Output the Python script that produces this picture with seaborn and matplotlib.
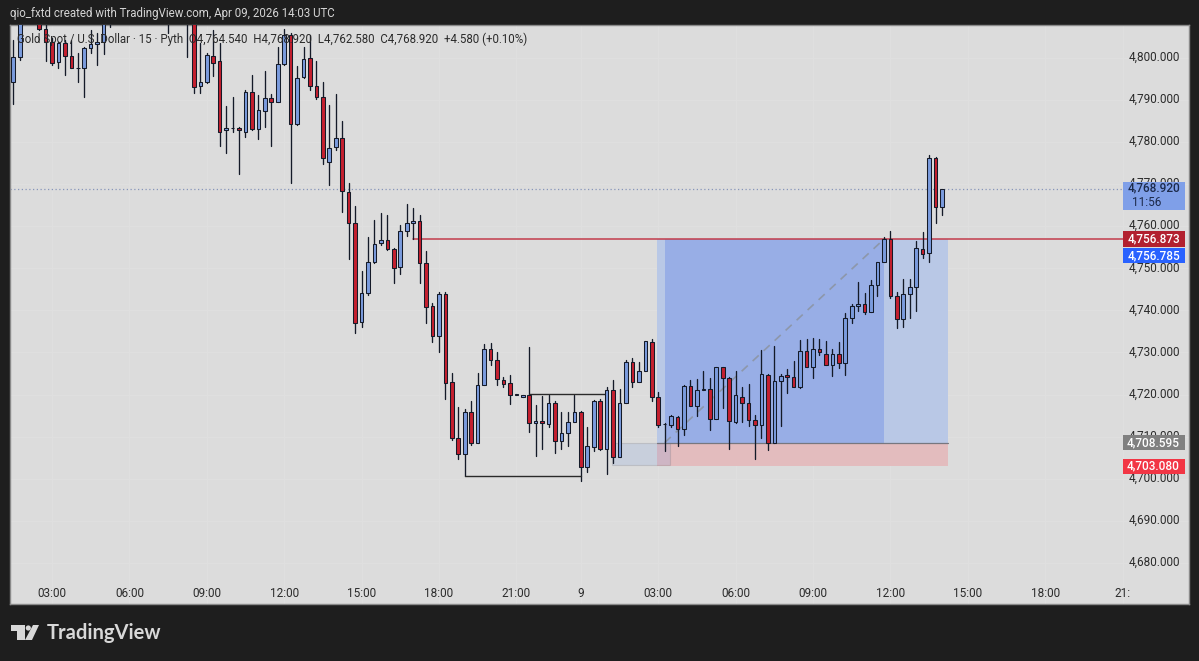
import matplotlib
matplotlib.use("Agg")
import matplotlib.pyplot as plt
from matplotlib.patches import Rectangle, Polygon, Ellipse
import pandas as pd
import seaborn as sns

N = None

# 15 minute bars, index 0 is the 03:00 bar. None = bar sits above the visible pane
bar_index = list(range(-6, 139))

open_ = [
    4794.3, 4800.2, N, N, 4811.0, 4806.9, 4803.8, 4798.9, 4803.4, 4800.5,
    4797.6, 4797.5, 4802.2, 4803.2, 4803.8, 4809.0, N, N, N, N,
    N, N, N, N, 4810.0, N, N, 4812.0, 4811.0, 4793.3,
    4794.3, 4800.5, 4799.1, 4782.7, 4783.4, 4783.2, 4782.4, 4791.8, 4783.0, 4787.4,
    4790.3, 4789.5, 4798.4, 4805.4, 4784.2, 4795.3, 4799.8, 4793.3, 4790.7, 4775.3,
    4778.7, 4780.9, 4768.0, 4760.7, 4737.3, 4744.2, 4751.4, 4756.0, 4756.7, 4754.5,
    4750.2, 4758.9, 4760.7, 4761.1, 4751.2, 4741.0, 4734.0, 4743.8, 4722.9, 4709.6,
    4705.8, 4715.8, 4708.6, 4722.2, 4730.9, 4728.2, 4723.4, 4722.7, 4719.8, 4719.4,
    4720.0, 4713.2, 4713.8, 4713.0, 4718.0, 4709.1, 4710.9, 4713.6, 4715.8, 4702.9,
    4707.5, 4718.5, 4707.1, 4721.0, 4705.3, 4717.9, 4727.8, 4723.1, 4725.5, 4732.5,
    4719.5, 4713.0, 4712.9, 4714.8, 4711.8, 4722.0, 4717.3, 4721.2, 4721.4, 4714.2,
    4726.5, 4724.0, 4713.4, 4719.5, 4717.9, 4714.0, 4712.9, 4724.7, 4708.6, 4723.2,
    4724.7, 4724.3, 4721.7, 4730.4, 4726.6, 4730.9, 4729.7, 4727.1, 4729.6, 4727.6,
    4738.3, 4741.0, 4741.6, 4739.6, 4746.0, 4751.4, 4756.9, 4743.3, 4738.0, 4744.0,
    4745.6, 4754.6, 4753.5, 4776.1, 4764.54,
]
high = [
    4804.2, 4811.0, N, N, 4812.0, 4809.0, 4804.6, 4803.8, 4804.2, 4804.2,
    4801.0, 4802.6, 4806.5, 4805.8, 4811.0, 4812.0, N, N, N, N,
    N, N, N, N, 4812.0, N, N, 4813.0, 4813.0, 4803.4,
    4801.0, 4806.5, 4803.4, 4788.4, 4790.6, 4783.6, 4792.3, 4795.9, 4791.1, 4796.8,
    4791.4, 4802.6, 4806.9, 4805.8, 4798.1, 4802.6, 4805.4, 4799.3, 4794.3, 4788.8,
    4791.3, 4785.0, 4770.2, 4764.8, 4749.4, 4757.3, 4761.5, 4763.2, 4762.6, 4754.7,
    4760.3, 4765.3, 4764.2, 4762.6, 4754.1, 4741.7, 4744.4, 4744.4, 4725.2, 4717.0,
    4716.5, 4718.6, 4725.1, 4732.0, 4732.2, 4730.0, 4724.3, 4724.7, 4720.2, 4719.8,
    4731.2, 4717.6, 4719.7, 4719.9, 4718.4, 4715.9, 4715.9, 4720.0, 4716.0, 4712.3,
    4718.7, 4718.9, 4721.7, 4723.4, 4721.3, 4728.2, 4728.7, 4727.7, 4732.7, 4733.1,
    4720.6, 4713.2, 4715.2, 4714.9, 4722.3, 4723.5, 4723.7, 4725.5, 4723.9, 4726.6,
    4726.6, 4724.3, 4725.6, 4721.9, 4722.5, 4715.2, 4730.6, 4724.8, 4731.5, 4724.8,
    4726.0, 4727.9, 4733.0, 4733.2, 4733.4, 4733.2, 4732.7, 4730.8, 4732.5, 4739.3,
    4741.5, 4746.7, 4744.1, 4747.1, 4751.4, 4757.3, 4758.8, 4744.4, 4747.4, 4747.4,
    4756.5, 4758.5, 4776.9, 4776.3, 4768.92,
]
low = [
    4789.1, 4799.4, N, N, 4806.5, 4799.3, 4798.2, 4797.5, 4795.9, 4797.5,
    4794.1, 4790.7, 4801.0, 4798.2, 4800.9, 4807.3, N, N, N, N,
    N, N, N, N, 4805.8, N, N, 4800.1, 4791.5, 4791.5,
    4794.0, 4795.6, 4778.9, 4777.4, 4782.4, 4772.4, 4781.1, 4782.8, 4780.6, 4783.5,
    4778.9, 4789.5, 4798.2, 4770.3, 4784.1, 4795.2, 4792.2, 4790.2, 4774.7, 4769.8,
    4778.1, 4763.3, 4752.2, 4734.6, 4736.0, 4743.7, 4751.2, 4755.4, 4754.3, 4746.4,
    4748.6, 4757.7, 4756.9, 4746.4, 4737.1, 4732.6, 4730.0, 4719.0, 4709.3, 4704.8,
    4700.7, 4708.1, 4708.6, 4722.2, 4727.0, 4722.3, 4721.7, 4717.7, 4719.8, 4719.4,
    4711.1, 4705.5, 4707.0, 4712.4, 4706.1, 4707.0, 4707.8, 4713.4, 4699.5, 4701.7,
    4706.7, 4706.9, 4701.1, 4703.7, 4705.1, 4717.9, 4721.7, 4723.1, 4725.5, 4718.6,
    4712.3, 4706.5, 4712.4, 4707.8, 4710.4, 4717.3, 4715.0, 4721.0, 4711.6, 4714.2,
    4716.9, 4707.0, 4713.2, 4713.6, 4712.6, 4704.7, 4709.8, 4706.9, 4708.6, 4712.6,
    4720.5, 4721.7, 4721.5, 4726.6, 4724.0, 4729.5, 4727.1, 4724.4, 4726.4, 4724.6,
    4737.1, 4739.9, 4739.1, 4739.6, 4743.4, 4751.4, 4742.9, 4735.9, 4736.1, 4738.1,
    4739.9, 4752.4, 4751.5, 4760.8, 4762.58,
]
close = [
    4800.2, 4808.9, N, N, 4806.8, 4803.8, 4798.8, 4803.4, 4800.5, 4797.6,
    4797.5, 4802.2, 4803.2, 4803.8, 4808.9, 4810.0, N, N, N, N,
    N, N, N, N, 4809.0, N, N, 4811.0, 4793.1, 4794.3,
    4800.6, 4798.7, 4782.4, 4783.4, 4783.3, 4782.7, 4791.8, 4783.0, 4787.6, 4790.4,
    4789.5, 4798.5, 4805.4, 4784.2, 4795.1, 4799.7, 4793.3, 4790.6, 4776.1, 4778.6,
    4780.9, 4768.3, 4760.7, 4737.1, 4744.2, 4751.4, 4755.8, 4756.7, 4754.5, 4750.0,
    4758.9, 4760.7, 4761.1, 4751.3, 4740.9, 4734.0, 4743.8, 4722.7, 4709.6, 4705.8,
    4715.8, 4708.6, 4722.2, 4730.9, 4728.2, 4723.6, 4722.6, 4719.8, 4720.2, 4719.8,
    4713.2, 4713.8, 4713.2, 4718.0, 4709.1, 4710.9, 4713.6, 4715.8, 4702.9, 4707.7,
    4718.6, 4707.2, 4721.0, 4705.3, 4717.9, 4727.8, 4723.1, 4725.5, 4732.7, 4719.5,
    4712.8, 4713.1, 4714.9, 4711.8, 4722.1, 4717.3, 4721.2, 4721.3, 4714.2, 4726.5,
    4724.0, 4713.8, 4719.8, 4717.9, 4714.0, 4712.9, 4724.8, 4708.6, 4723.2, 4724.5,
    4724.2, 4721.7, 4730.3, 4726.6, 4730.9, 4730.0, 4727.1, 4729.6, 4727.6, 4738.3,
    4741.1, 4741.6, 4739.6, 4746.0, 4751.4, 4756.9, 4743.3, 4738.0, 4744.0, 4745.6,
    4754.7, 4753.3, 4776.1, 4764.5, 4768.92,
]

time_ticks = [0, 12, 24, 36, 48, 60, 72, 82, 94, 106, 118, 130, 142, 154, 166]
time_labels = ["03:00", "06:00", "09:00", "12:00", "15:00", "18:00", "21:00", "9",
               "03:00", "06:00", "09:00", "12:00", "15:00", "18:00", "21:"]
price_ticks = [4800, 4790, 4780, 4770, 4760, 4750, 4740, 4730, 4720, 4710, 4700, 4690, 4680]

last_price = 4768.92
target_price = 4756.873
cross_price = 4756.785
entry_price = 4708.595
stop_price = 4703.08

BG = "#dcdcdc"
DARK = "#1e1e1e"
UP = "#7a9bdd"
DOWN = "#c4202f"
EDGE = "#141a28"
TXT = "#2b2b2b"

sns.set_theme(style="white")
plt.rcParams["font.family"] = ["Roboto", "DejaVu Sans"]

df = pd.DataFrame({"bar": bar_index, "o": open_, "h": high, "l": low, "c": close}).dropna()
df["body_low"] = df[["o", "c"]].min(axis=1)
df["body"] = (df.o - df.c).abs()
wicks = df.melt(id_vars="bar", value_vars=["h", "l"], value_name="price")

fig = plt.figure(figsize=(11.99, 6.61), dpi=100, facecolor=DARK)
# pane runs from x 10 to 1189 and y 25 to 604 in the 1199x661 picture
ax = fig.add_axes([10 / 1199, 1 - 604 / 661, 1179 / 1199, 579 / 661], facecolor=BG)

# grid
for p in price_ticks:
    ax.axhline(p, color="#dfdfdf", lw=0.8, zorder=0)
for t in time_ticks:
    ax.axvline(t, color="#dfdfdf", lw=0.8, zorder=0)

# long position tool
ax.add_patch(Rectangle((93.8, entry_price), 45.1, target_price - entry_price, color="#b9c8e6", lw=0, zorder=1))
ax.add_patch(Rectangle((95, entry_price), 34, target_price - entry_price, color="#98aee6", lw=0, zorder=1.1))
ax.add_patch(Rectangle((93.8, stop_price), 45.1, entry_price - stop_price, color="#e3bcbe", lw=0, zorder=1))
ax.add_patch(Rectangle((86.8, stop_price + 0.2), 9.1, entry_price - stop_price - 0.2, facecolor="#7a9bdd", alpha=0.2,
                       edgecolor="#666666", lw=0.8, zorder=1.2))
ax.plot([93.8, 138.9], [entry_price, entry_price], color="#77777f", lw=0.9, zorder=1.3)

sns.lineplot(x=[95, 129], y=[entry_price, 4756.9], color="#8d97aa", lw=1.2, linestyle=(0, (5, 4)), ax=ax, zorder=1.5)

# candles
sns.lineplot(data=wicks, x="bar", y="price", units="bar", estimator=None, sort=False,
             color=EDGE, lw=0.95, legend=False, ax=ax, zorder=3)
for rows, colour in ((df[df.c >= df.o], UP), (df[df.c < df.o], DOWN)):
    sns.barplot(data=rows, x="bar", y="body", bottom=rows["body_low"].values, native_scale=True,
                color=colour, saturation=1, width=0.56, edgecolor=EDGE, linewidth=0.75, errorbar=None,
                ax=ax, zorder=4)

# hand drawn brackets and price lines
ax.plot([64, 82], [4700.7, 4700.7], color="#2a2a2a", lw=1.0, zorder=3)
ax.plot([74, 86], [4720.1, 4720.1], color="#2a2a2a", lw=1.0, zorder=3)
ax.plot([56, 166], [target_price, target_price], color="#c23c4c", lw=1.1, zorder=2)
ax.plot([-6.5, 166], [last_price, last_price], color="#8795ba", lw=0.9, ls=(0, (1, 2)), zorder=2)

ax.set_xlim(-6.51, 176.3)
ax.set_ylim(4670.3, 4807.74)
ax.set_xlabel("")
ax.set_ylabel("")
ax.set_yticks([])
ax.set_xticks(time_ticks, time_labels)
ax.tick_params(axis="x", length=0, pad=-12, labelsize=8.5, labelcolor=TXT)
for s in ax.spines.values():
    s.set_color("#8a8a8a")
    s.set_linewidth(1)

# price scale
for p in price_ticks:
    ax.text(174.9, p + 0.1, f"{p:,.3f}", ha="right", va="center", fontsize=8.5, color=TXT, zorder=5)


def price_tag(center, height, color, text, text_color="white"):
    ax.add_patch(Rectangle((166.0, center - height / 2), 9.7, height, color=color, lw=0, zorder=6))
    ax.text(174.9, center, text, ha="right", va="center", fontsize=8.5, color=text_color, zorder=7,
            fontweight="medium")


price_tag(4767.2, 6.7, "#7f9fe8", f"{last_price:,.3f}", "#1c2a4a")
ax.texts[-1].set_y(4769.0)
ax.text(167.4, 4765.6, "11:56", ha="left", va="center", fontsize=8.5, color="#1c2a4a", zorder=7)
price_tag(target_price, 3.85, "#b2202f", f"{target_price:,.3f}")
price_tag(4753.0, 3.6, "#2962ff", f"{cross_price:,.3f}")
price_tag(entry_price, 3.6, "#808080", f"{entry_price:,.3f}")
price_tag(stop_price - 0.1, 3.7, "#f23645", f"{stop_price:,.3f}")

# header texts, in picture pixels
fig.text(10 / 1199, 1 - 14 / 661, "qio_fxtd created with TradingView.com, Apr 09, 2026 14:03 UTC",
         color="#d4d4d4", fontsize=8.3, va="center")
fig.text(17 / 1199, 1 - 39 / 661,
         "Gold Spot / U.S. Dollar · 15 · Pyth  O4,764.540  H4,768.920  L4,762.580  C4,768.920  +4.580 (+0.10%)",
         color=TXT, fontsize=8.3, va="center", zorder=10)

# footer logo
W, H = 1199, 661


def px(x, y):
    return (x / W, 1 - y / H)


logo = "#d8d8d8"
fig.add_artist(Polygon([px(11, 625), px(24.5, 625), px(24.5, 640), px(17, 640), px(17, 631), px(11, 631)],
                       closed=True, color=logo, lw=0, transform=fig.transFigure))
fig.add_artist(Polygon([px(33, 625), px(39, 625), px(32, 640), px(25, 640)],
                       closed=True, color=logo, lw=0, transform=fig.transFigure))
fig.add_artist(Ellipse(px(28.3, 628), 5.2 / W, 5.2 / H, color=logo, lw=0, transform=fig.transFigure))
fig.text(47 / W, 1 - 633 / H, "TradingView", color=logo, fontsize=14.5, fontweight="bold",
         family=["Lato", "DejaVu Sans"], va="center")

fig.savefig("out.png", dpi=100, facecolor=DARK)
